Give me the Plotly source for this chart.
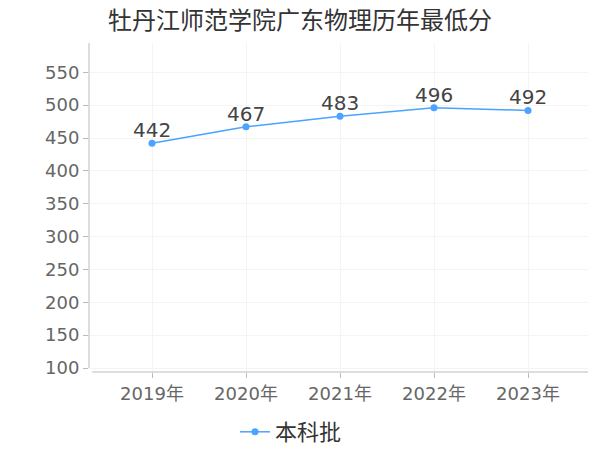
import plotly.graph_objects as go

years = ["2019年", "2020年", "2021年", "2022年", "2023年"]
scores = [442, 467, 483, 496, 492]
series_name = "本科批"
title_text = "牡丹江师范学院广东物理历年最低分"
y_ticks = [100, 150, 200, 250, 300, 350, 400, 450, 500, 550]

W, H = 600, 450
L, R, T, B = 89, 588, 43, 372  # plot area in page px
Y100, Y550 = 368, 72.3
X0, STEP = 152, 94.0

xs = list(range(len(years)))
fig = go.Figure()
fig.add_trace(go.Scatter(
    x=xs, y=scores, name=series_name,
    mode="lines+markers",
    line=dict(color="#4aa3ff", width=1.5),
    marker=dict(color="#4aa3ff", size=7),
    cliponaxis=False,
))
for xi, v in zip(xs, scores):
    fig.add_annotation(x=xi, y=v, text=str(v), showarrow=False,
                       xanchor="center", yanchor="middle", yshift=13,
                       font=dict(size=20, color="#444444", family="DejaVu Sans"))

px_per_unit = (Y100 - Y550) / (550 - 100)
y_lo = 100 - (B - Y100) / px_per_unit
y_hi = 100 + (Y100 - T) / px_per_unit
x_lo = (L - X0) / STEP
x_hi = (R - X0) / STEP

pw, ph = R - L, B - T
fig.update_layout(
    width=W, height=H,
    margin=dict(l=L, r=W - R, t=T, b=H - B, autoexpand=False),
    paper_bgcolor="white", plot_bgcolor="white",
    title=dict(text=title_text, x=300 / W, xanchor="center", y=1 - 21 / H,
               yanchor="middle",
               font=dict(size=24, color="#333333", family="Noto Sans CJK SC")),
    showlegend=True,
    legend=dict(orientation="h", x=(235 - L) / pw, xanchor="left",
                y=-(432 - B) / ph, yanchor="middle",
                font=dict(size=22, color="#333333", family="Noto Sans CJK SC")),
    font=dict(family="DejaVu Sans, Noto Sans CJK SC"),
)
fig.update_xaxes(
    range=[x_lo, x_hi], tickmode="array", tickvals=xs, ticktext=years,
    showgrid=True, gridcolor="#f4f4f4", gridwidth=1, zeroline=False, showline=False,
    ticks="outside", ticklen=5, tickcolor="#bbbbbb", automargin=False,
    tickfont=dict(size=18, color="#666666", family="DejaVu Sans, Noto Sans CJK SC"),
)
fig.update_yaxes(
    range=[y_lo, y_hi], tickmode="array", tickvals=y_ticks,
    showgrid=True, gridcolor="#f4f4f4", gridwidth=1, zeroline=False, showline=False,
    ticks="outside", ticklen=5, tickcolor="#bbbbbb", automargin=False,
    tickfont=dict(size=18, color="#666666", family="DejaVu Sans"),
)
fig.add_shape(type="line", xref="paper", yref="paper", x0=0, x1=0,
              y0=(B - Y100) / ph, y1=1, line=dict(color="#bbbbbb", width=1))
fig.add_shape(type="line", xref="paper", yref="paper", x0=3 / pw, x1=1,
              y0=0, y1=0, line=dict(color="#bbbbbb", width=1))

fig.write_html("out.html", config={"displayModeBar": False},
               post_script="document.body.style.margin='0px';document.body.style.overflow='hidden';")
